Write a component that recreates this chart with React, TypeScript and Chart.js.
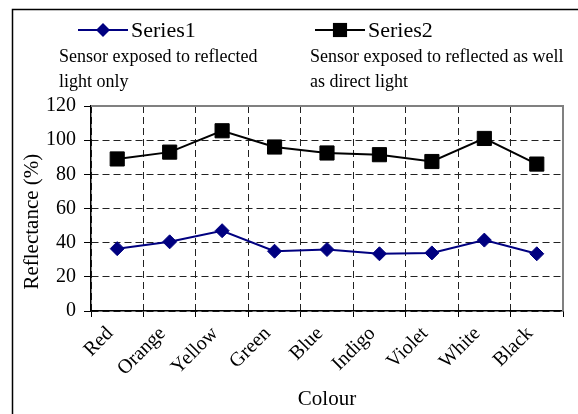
import React, { useEffect, useRef } from "react";
import { Chart, registerables } from "chart.js";

Chart.register(...registerables);

const categories = ["Red", "Orange", "Yellow", "Green", "Blue", "Indigo", "Violet", "White", "Black"];
const series1 = [36.5, 40.5, 47, 35, 36, 33.5, 34, 41.5, 33.5];
const series2 = [89, 93, 105.5, 96, 92.5, 91.5, 87.5, 101, 86];
const seriesNames = ["Series1", "Series2"];
const captions1 = ["Sensor exposed to reflected", "light only"];
const captions2 = ["Sensor exposed to reflected as well", "as direct light"];
const yTicks = [0, 20, 40, 60, 80, 100, 120];

const FONT = "'Liberation Serif', 'Times New Roman', serif";

const decorPlugin = {
  id: "decor",
  afterDraw(chart: any) {
    const ctx = chart.ctx;
    const ca = chart.chartArea;
    ctx.save();
    // plot frame top/right (gray)
    ctx.strokeStyle = "#808080";
    ctx.lineWidth = 2;
    ctx.beginPath();
    ctx.moveTo(ca.left, ca.top);
    ctx.lineTo(ca.right, ca.top);
    ctx.lineTo(ca.right, ca.bottom);
    ctx.stroke();
    // outer frame (left/top)
    ctx.strokeStyle = "#000";
    ctx.lineWidth = 1.5;
    ctx.beginPath();
    ctx.moveTo(12.5, 414);
    ctx.lineTo(12.5, 9.5);
    ctx.lineTo(578, 9.5);
    ctx.stroke();

    // legend
    const items = [
      { x: 78, ds: chart.data.datasets[0], caps: captions1, capX: 59 },
      { x: 315, ds: chart.data.datasets[1], caps: captions2, capX: 310 },
    ];
    const ly = 30;
    items.forEach((it) => {
      const ds = it.ds;
      ctx.strokeStyle = ds.borderColor;
      ctx.lineWidth = 2;
      ctx.beginPath();
      ctx.moveTo(it.x, ly);
      ctx.lineTo(it.x + 50, ly);
      ctx.stroke();
      ctx.fillStyle = ds.pointBackgroundColor;
      const cx = it.x + 25;
      ctx.beginPath();
      if (ds.pointStyle === "rectRot") {
        const r = ds.pointRadius;
        ctx.moveTo(cx - r, ly);
        ctx.lineTo(cx, ly - r);
        ctx.lineTo(cx + r, ly);
        ctx.lineTo(cx, ly + r);
        ctx.closePath();
      } else {
        const s = Math.SQRT1_2 * ds.pointRadius;
        ctx.rect(cx - s, ly - s, 2 * s, 2 * s);
      }
      ctx.fill();
      ctx.fillStyle = "#000";
      ctx.font = "22px " + FONT;
      ctx.textBaseline = "middle";
      ctx.textAlign = "left";
      ctx.fillText(ds.label, it.x + 53, ly + 1);
      ctx.font = "18px " + FONT;
      it.caps.forEach((c: string, i: number) => {
        ctx.fillText(c, it.capX, 57 + i * 25);
      });
    });
    ctx.restore();
  },
};

export default function App() {
  const ref = useRef<HTMLCanvasElement>(null);
  useEffect(() => {
    if (!ref.current) return;
    const chart = new Chart(ref.current, {
      type: "line",
      data: {
        labels: categories,
        datasets: [
          {
            label: seriesNames[0],
            data: series1,
            borderColor: "#000080",
            backgroundColor: "#000080",
            pointBackgroundColor: "#000080",
            pointBorderColor: "#000080",
            pointStyle: "rectRot",
            pointRadius: 7,
            pointBorderWidth: 1,
            borderWidth: 2,
            tension: 0,
          },
          {
            label: seriesNames[1],
            data: series2,
            borderColor: "#000000",
            backgroundColor: "#000000",
            pointBackgroundColor: "#000000",
            pointBorderColor: "#000000",
            pointStyle: "rect",
            pointRadius: 10,
            pointBorderWidth: 1,
            borderWidth: 2,
            tension: 0,
          },
        ],
      },
      options: {
        animation: false,
        responsive: true,
        maintainAspectRatio: false,
        layout: { padding: { top: 106, right: 15, left: 0, bottom: 0 } },
        plugins: { legend: { display: false }, tooltip: { enabled: false } },
        scales: {
          x: {
            offset: true,
            afterFit: (s: any) => {
              s.height = 103;
            },
            grid: {
              offset: true,
              color: "#222",
              lineWidth: 1,
              drawTicks: true,
              tickLength: 6,
              tickColor: "#000",
              tickWidth: 1,
              tickBorderDash: [],
            },
            border: { display: true, color: "#000", width: 1.5, dash: [7, 4] },
            ticks: {
              minRotation: 45,
              maxRotation: 45,
              color: "#000",
              font: { family: FONT, size: 20 },
              padding: 5,
              labelOffset: -7,
              autoSkip: false,
            },
            title: {
              display: true,
              text: "Colour",
              color: "#000",
              font: { family: FONT, size: 21 },
              padding: { top: 0, bottom: 2 },
            },
          },
          y: {
            min: 0,
            max: 120,
            afterFit: (s: any) => {
              s.width = 91;
            },
            afterBuildTicks: (s: any) => {
              s.ticks = yTicks.map((v) => ({ value: v }));
            },
            grid: {
              color: "#222",
              lineWidth: 1,
              drawTicks: true,
              tickLength: 7,
              tickColor: "#000",
              tickWidth: 1,
              tickBorderDash: [],
            },
            border: { display: true, color: "#000", width: 1.5, dash: [7, 4] },
            ticks: {
              color: "#000",
              font: { family: FONT, size: 20 },
              padding: 8,
            },
            title: {
              display: true,
              text: "Reflectance (%)     ",
              color: "#000",
              font: { family: FONT, size: 21 },
              padding: { top: 20, bottom: 0 },
            },
          },
        },
      },
      plugins: [decorPlugin],
    });
    return () => chart.destroy();
  }, []);
  return (
    <div style={{ position: "fixed", left: 0, top: 0, width: 578, height: 414, background: "#fff" }}>
      <canvas ref={ref} />
    </div>
  );
}
